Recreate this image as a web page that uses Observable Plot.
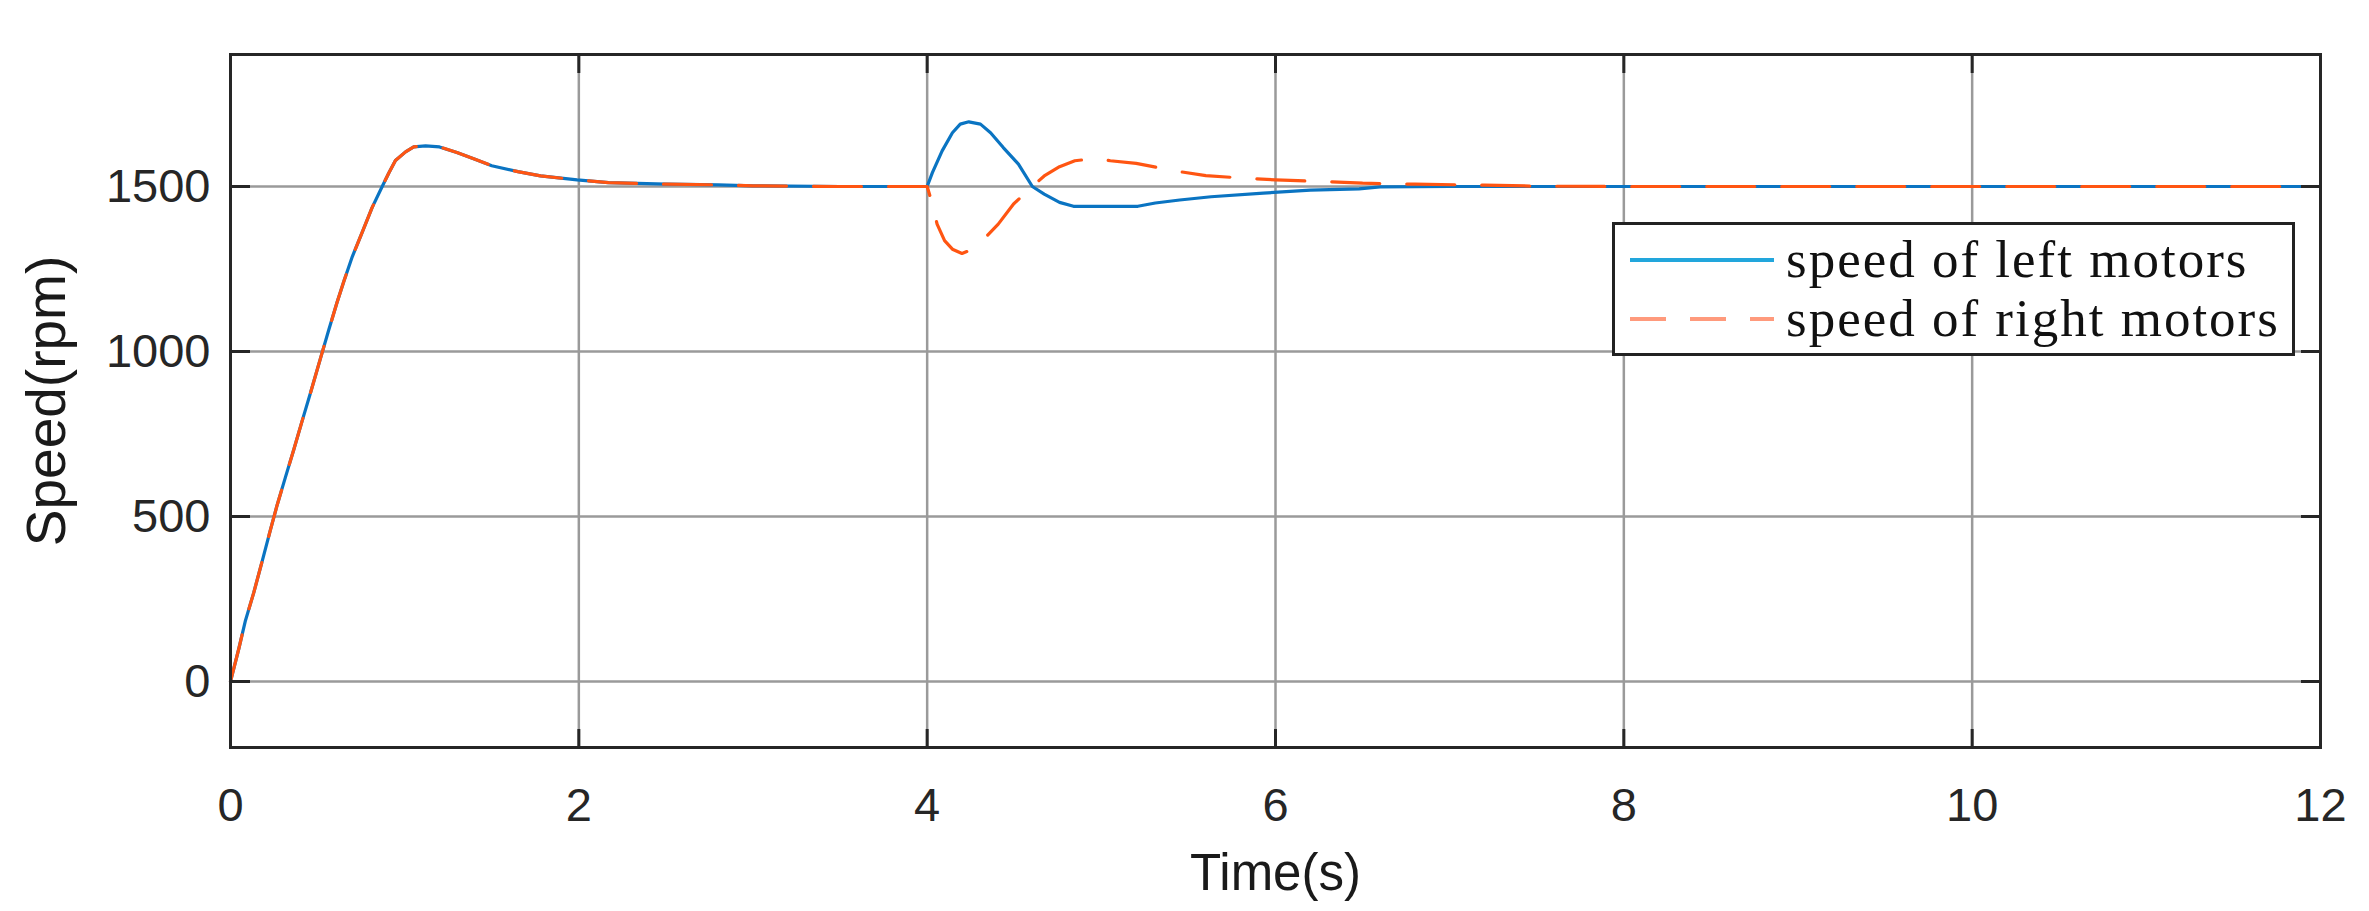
<!DOCTYPE html>
<html>
<head>
<meta charset="utf-8">
<script src="https://cdn.jsdelivr.net/npm/d3@7"></script>
<script src="https://cdn.jsdelivr.net/npm/@observablehq/plot@0.6"></script>
<style>
  html, body { margin: 0; padding: 0; background: #fff; }
  #wrap { position: relative; width: 2369px; height: 911px; }
  #legend { position: absolute; left: 1612px; top: 222px; }
</style>
</head>
<body>
<div id="wrap"></div>
<script>
// ---- data ----
const xTicks = [0, 2, 4, 6, 8, 10, 12];
const yTicks = [0, 500, 1000, 1500];

// start-up transient, identical for both sides (0 – 4 s)
const tStart = [0, 0.01, 0.048, 0.086, 0.134, 0.182, 0.23, 0.268, 0.316, 0.364, 0.411, 0.459, 0.517, 0.564, 0.612, 0.651, 0.699, 0.756, 0.813, 0.871, 0.909, 0.947, 1.005, 1.052, 1.12, 1.2, 1.3, 1.4, 1.5, 1.65, 1.78, 1.99, 2.17, 2.5, 2.8, 3.0, 3.5, 4.0];
const vStart = [0, 21, 100, 185, 270, 365, 461, 535, 620, 704, 789, 874, 980, 1065, 1149, 1213, 1287, 1361, 1436, 1500, 1541, 1579, 1605, 1620, 1623, 1620, 1603, 1583, 1563, 1545, 1532, 1520, 1512, 1507, 1505, 1502, 1500, 1500];

// left motors after the turn command at 4 s
const tLeft = [4.03, 4.086, 4.145, 4.19, 4.239, 4.306, 4.364, 4.437, 4.524, 4.604, 4.672, 4.76, 4.84, 5.21, 5.31, 5.45, 5.63, 5.93, 6.2, 6.48, 6.6, 7, 12];
const vLeft = [1542, 1608, 1663, 1689, 1696, 1689, 1663, 1618, 1568, 1500, 1477, 1452, 1440, 1440, 1450, 1459, 1469, 1480, 1489, 1493, 1499, 1500, 1500];

// right motors after the turn command at 4 s
const tRight = [4.03, 4.057, 4.10, 4.145, 4.20, 4.262, 4.335, 4.408, 4.496, 4.604, 4.672, 4.76, 4.848, 4.966, 5.052, 5.2, 5.32, 5.45, 5.6, 5.85, 6.0, 6.27, 6.5, 6.8, 7.2, 7.5, 8, 12];
const vRight = [1447, 1386, 1336, 1310, 1297, 1310, 1346, 1386, 1447, 1500, 1532, 1560, 1578, 1585, 1578, 1570, 1558, 1545, 1533, 1524, 1520, 1515, 1510, 1507, 1504, 1501, 1500, 1500];

const seriesNames = ["speed of left motors", "speed of right motors"];

// ---- build tables ----
const startRows = tStart.map((t, i) => ({t, v: vStart[i]}));
const leftData = startRows.concat(tLeft.map((t, i) => ({t, v: vLeft[i]})));
const rightData = startRows.concat(tRight.map((t, i) => ({t, v: vRight[i]})));

const BLUE = "#0a74c2";
const RED = "#ff5512";
const SANS = "'Liberation Sans', Arial, sans-serif";

const chart = Plot.plot({
  width: 2369,
  height: 911,
  marginLeft: 230,
  marginRight: 49,
  marginTop: 54,
  marginBottom: 164,
  style: {background: "#fff", fontFamily: SANS, color: "#262626"},
  x: {domain: [0, 12], axis: null},
  y: {domain: [-200, 1900], axis: null},
  marks: [
    Plot.gridX(xTicks, {stroke: "#9a9a9a", strokeOpacity: 1, strokeWidth: 2.5}),
    Plot.gridY(yTicks, {stroke: "#9a9a9a", strokeOpacity: 1, strokeWidth: 2.5}),
    Plot.line(leftData, {x: "t", y: "v", stroke: BLUE, strokeWidth: 3.2}),
    Plot.line(rightData, {x: "t", y: "v", stroke: RED, strokeWidth: 3.2, strokeDasharray: "48,27"}),
    Plot.frame({stroke: "#262626", strokeWidth: 3}),
    // inward tick marks on all four sides
    Plot.axisX(xTicks, {anchor: "bottom", tickSize: -18, tickFormat: () => "", strokeWidth: 3, stroke: "#262626", label: null}),
    Plot.axisX(xTicks, {anchor: "top", tickSize: -18, tickFormat: () => "", strokeWidth: 3, stroke: "#262626", label: null}),
    Plot.axisY(yTicks, {anchor: "left", tickSize: -20, tickFormat: () => "", strokeWidth: 3, stroke: "#262626", label: null}),
    Plot.axisY(yTicks, {anchor: "right", tickSize: -20, tickFormat: () => "", strokeWidth: 3, stroke: "#262626", label: null}),
    // tick labels
    Plot.axisX(xTicks, {anchor: "bottom", tickSize: 0, tickPadding: 40, fontSize: 47, fill: "#262626", label: null, tickFormat: d => String(d)}),
    Plot.axisY(yTicks, {anchor: "left", tickSize: 0, tickPadding: 20, fontSize: 47, fill: "#262626", label: null, tickFormat: d => String(d), style: {letterSpacing: "2px"}}),
    // axis titles
    Plot.text(["Time(s)"], {frameAnchor: "bottom", lineAnchor: "top", dy: 106, fontSize: 51, fill: "#1a1a1a", text: d => d}),
    Plot.text(["Speed(rpm)"], {frameAnchor: "left", textAnchor: "middle", lineAnchor: "bottom", rotate: -90, dx: -166, fontSize: 55, fill: "#1a1a1a", text: d => d})
  ]
});

const wrap = document.getElementById("wrap");
wrap.appendChild(chart);

// ---- legend box (overlaid inside the axes, as in the reference) ----
const ns = "http://www.w3.org/2000/svg";
const lg = document.createElementNS(ns, "svg");
lg.setAttribute("id", "legend");
lg.setAttribute("width", 683);
lg.setAttribute("height", 134);
const legendColors = ["#22a6dc", "#ff9a7c"];
const legendDash = [null, "36,24"];
let html = `<rect x="1.5" y="1.5" width="680" height="131" fill="#fff" stroke="#222" stroke-width="3"/>`;
seriesNames.forEach((name, i) => {
  const ly = 38 + i * 59;
  html += `<line x1="18" x2="162" y1="${ly}" y2="${ly}" stroke="${legendColors[i]}" stroke-width="4"${legendDash[i] ? ` stroke-dasharray="${legendDash[i]}"` : ""}/>`;
  html += `<text x="174" y="${ly + 17}" font-family="'Liberation Serif', 'Times New Roman', serif" font-size="53" letter-spacing="2" fill="#111">${name}</text>`;
});
lg.innerHTML = html;
wrap.appendChild(lg);
</script>
</body>
</html>
